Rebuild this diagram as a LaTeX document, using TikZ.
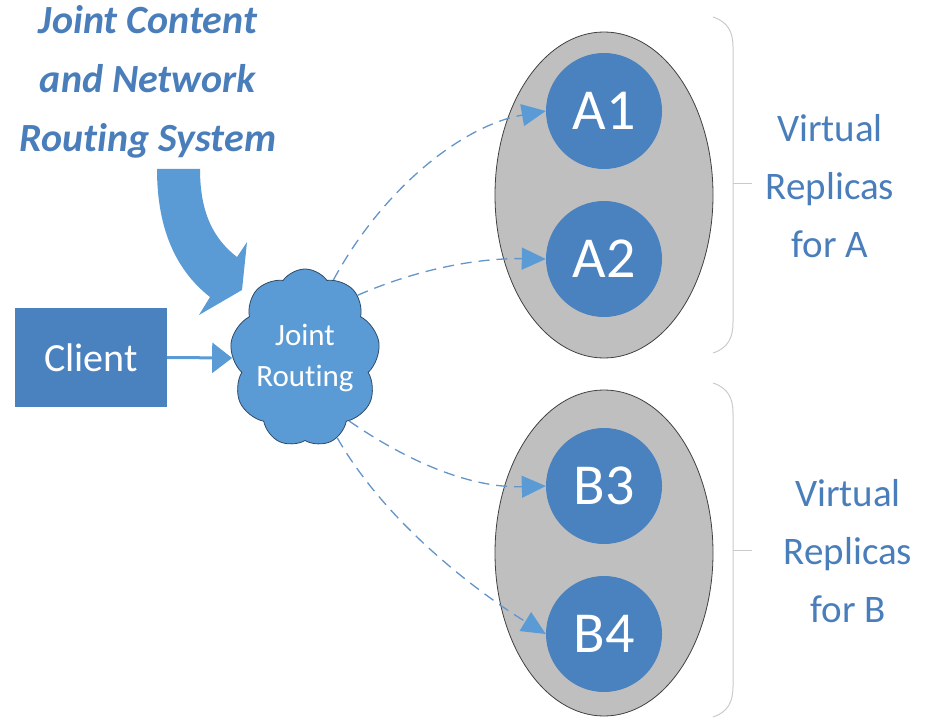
\documentclass[tikz,border=0pt]{standalone}
\usepackage{fontspec}
\setmainfont{Carlito}[Ligatures=NoCommon]
\usetikzlibrary{shapes.geometric,shapes.symbols,arrows.meta}
\definecolor{boxblue}{HTML}{4A82C0}
\definecolor{lightblue}{HTML}{5B9BD5}
\definecolor{textblue}{HTML}{4A7EBB}
\definecolor{dashblue}{HTML}{6495C8}
\definecolor{grayfill}{HTML}{BFBFBF}
\definecolor{bracegray}{HTML}{CACACA}
\definecolor{cloudline}{HTML}{2E4A66}
\begin{document}
\begin{tikzpicture}[x=1pt,y=-1pt,
  replica/.style={circle, fill=boxblue, minimum size=116pt, inner sep=0pt, text=white, font=\fontsize{58}{64}\selectfont},
  group/.style={ellipse, fill=grayfill, draw=black!75, line width=0.8pt, minimum width=218pt, minimum height=326pt, inner sep=0pt},
  dasharrow/.style={draw=dashblue, line width=1.3pt, dash pattern=on 11pt off 7pt, -{Triangle[length=24pt,width=22pt,fill=lightblue,color=lightblue]}},
  bracket/.style={draw=bracegray, line width=1pt},
  sidetext/.style={text=textblue, align=center, font=\fontsize{39}{58}\selectfont},
]
\useasboundingbox (0,0) rectangle (928,719);

% title
\node[text=textblue, align=center, font=\fontsize{40}{59}\selectfont\bfseries\itshape] (title) at (148,82) {Joint Content\\and Network\\Routing System};

% big curved arrow
\fill[lightblue] (157,169) -- (200,169) .. controls (200,215) and (215,240) .. (237,257) -- (247,242) -- (242,290) -- (199,315) -- (210,297) .. controls (178,272) and (157,232) .. (157,169) -- cycle;

% groups
\node[group] (ga) at (604,195) {};
\node[group] (gb) at (604,553) {};
\node[replica] (a1) at (604,111) {A1};
\node[replica] (a2) at (604,259) {A2};
\node[replica] (b3) at (604,486) {B3};
\node[replica] (b4) at (604,634) {B4};

% cloud
\node[cloud, cloud puffs=9, cloud puff arc=110, cloud ignores aspect, draw=cloudline, line width=0.8pt, fill=lightblue, minimum width=150pt, minimum height=178pt, inner sep=0pt, text=white, align=center, font=\fontsize{31}{41}\selectfont] (cloud) at (305,358) {Joint\\Routing};

% client
\node[rectangle, fill=boxblue, minimum width=152pt, minimum height=99pt, inner sep=0pt, text=white, font=\fontsize{40}{48}\selectfont] (client) at (91,357.5) {Client};
\draw[lightblue, line width=3pt, -{Triangle[length=20pt,width=30pt]}] (client.east) -- (cloud.west);

% dashed connectors
\draw[dasharrow] (cloud.70) .. controls (385,185) and (465,125) .. (a1.west);
\draw[dasharrow] (cloud.50) .. controls (420,268) and (480,258) .. (a2.west);
\draw[dasharrow] (cloud.-55) .. controls (420,470) and (480,488) .. (b3.west);
\draw[dasharrow] (cloud.-68) .. controls (390,530) and (490,600) .. (b4.west);

% brackets
\draw[bracket] (713,17) .. controls (728,22) and (733,32) .. (733,47) -- (733,322) .. controls (733,338) and (728,348) .. (713,353);
\draw[bracket] (733,184) -- (752,184);
\draw[bracket] (713,383) .. controls (728,388) and (733,398) .. (733,413) -- (733,686) .. controls (733,702) and (728,712) .. (713,717);
\draw[bracket] (733,550) -- (752,550);

% side labels
\node[sidetext] (ta) at (830,186) {Virtual\\Replicas\\for A};
\node[sidetext] (tb) at (848,551) {Virtual\\Replicas\\for B};
\end{tikzpicture}
\end{document}
